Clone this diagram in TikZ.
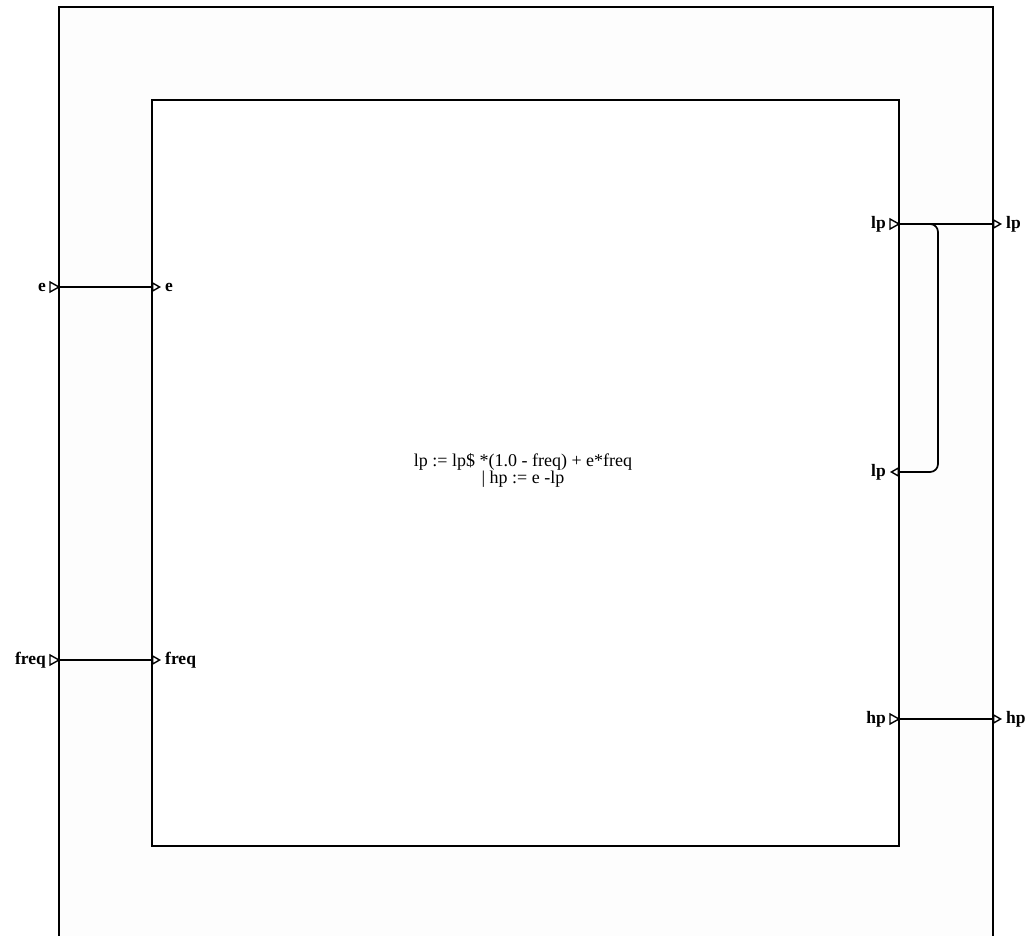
\documentclass[tikz,border=0pt]{standalone}
\usepackage{fontspec}
\setmainfont{Liberation Serif}
\usetikzlibrary{arrows.meta}
\begin{document}
\begin{tikzpicture}[x=1pt,y=-1pt,
  wire/.style={line width=1.7pt},
  box/.style={draw=black,line width=2pt},
  tip/.style={-{Triangle[open,length=9pt,width=10pt,line width=1.4pt]}},
  plab/.style={font=\bfseries\fontsize{17.5}{19}\selectfont,inner sep=0pt},
  tri/.style={line width=1.4pt,line join=miter}]
\useasboundingbox (0,0) rectangle (1029,936);
\fill[white] (0,0) rectangle (1029,936);
% outer box
\draw[box,fill={rgb,255:red,253;green,253;blue,253}] (59,950) -- (59,7) -- (993,7) -- (993,950);
% inner box
\draw[box,fill=white] (152,100) rectangle (899,846);
% coordinates
\coordinate (oe) at (59,287);
\coordinate (ie) at (152,287);
\coordinate (of) at (59,660);
\coordinate (if) at (152,660);
\coordinate (ilp) at (899,224);
\coordinate (olp) at (993,224);
\coordinate (ilpin) at (899,472);
\coordinate (ihp) at (899,719);
\coordinate (ohp) at (993,719);
\coordinate (fb) at (938,0);
% outer input port triangles
\draw[tri] (50,282) -- (59,287) -- (50,292) -- cycle;
\draw[tri] (50,655) -- (59,660) -- (50,665) -- cycle;
% inner output port triangles
\draw[tri] (890,219) -- (899,224) -- (890,229) -- cycle;
\draw[tri] (890,714) -- (899,719) -- (890,724) -- cycle;
% wires
\draw[wire,tip] (oe) -- ([xshift=9pt]ie);
\draw[wire,tip] (of) -- ([xshift=9pt]if);
\draw[wire,tip] (ilp) -- ([xshift=9pt]olp);
\draw[wire,tip] (ihp) -- ([xshift=9pt]ohp);
\draw[wire,tip,rounded corners=8pt] (ilp) -| (fb |- ilpin) -- ([xshift=-9pt]ilpin);
% labels
\node[plab,anchor=east] (le) at (46,287) {e};
\node[plab,anchor=west] (lie) at (165,287) {e};
\node[plab,anchor=east] (lf) at (46,660) {freq};
\node[plab,anchor=west] (lif) at (165,660) {freq};
\node[plab,anchor=east] (llp) at (886,224) {lp};
\node[plab,anchor=west] (lolp) at (1006,224) {lp};
\node[plab,anchor=east] (llpin) at (886,472) {lp};
\node[plab,anchor=east] (lhp) at (886,719) {hp};
\node[plab,anchor=west] (lohp) at (1006,719) {hp};
\node[align=center,font=\fontsize{18}{17}\selectfont,inner sep=0pt] (eq) at (523,470) {lp := lp\$ *(1.0 - freq) + e*freq\\| hp := e -lp};
\end{tikzpicture}
\end{document}
